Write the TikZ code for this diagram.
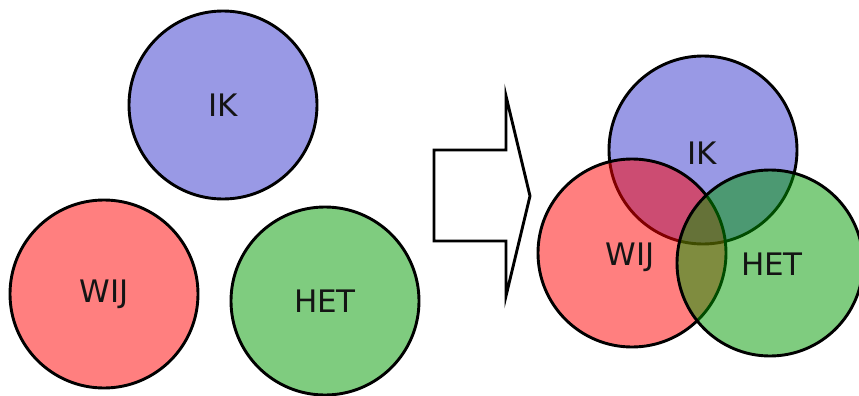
\documentclass[tikz,border=0pt]{standalone}
\usepackage{fontspec}
\setmainfont{DejaVu Sans}
\definecolor{ikc}{RGB}{51,51,204}
\definecolor{wijc}{RGB}{255,0,0}
\definecolor{hetc}{RGB}{0,153,0}
\begin{document}
\begin{tikzpicture}[x=1pt,y=-1pt,
  lbl/.style={font=\fontsize{31}{33}\selectfont,text=black!92},
  setc/.style={circle,draw=black,line width=2.9pt,fill opacity=0.5,text opacity=1,
    minimum size=188pt,inner sep=0pt,lbl},
  arrowbox/.style={draw=black,line width=2.9pt,fill=white,line join=miter}]
\useasboundingbox (0,0) rectangle (859,396);
% left: separate circles
\node[setc,fill=ikc]  (ik1)  at (223,105) {IK};
\node[setc,fill=wijc] (wij1) at (104,294) {WIJ};
\node[setc,fill=hetc] (het1) at (325,301) {HET};
% arrow
\draw[arrowbox] (434,150) -- (506,150) -- (506,96) -- (530,196) -- (506,296) -- (506,241) -- (434,241) -- cycle;
% right: overlapping circles
\node[setc,fill=ikc]  (ik2)  at (703,150) {};
\node[setc,fill=wijc] (wij2) at (632,253) {};
\node[setc,fill=hetc,minimum size=186pt] (het2) at (770,263) {};
\node[lbl] (ikt)  at (702,153) {IK};
\node[lbl] (wijt) at (630,257) {WIJ};
\node[lbl] (hett) at (772,264) {HET};
\end{tikzpicture}
\end{document}
